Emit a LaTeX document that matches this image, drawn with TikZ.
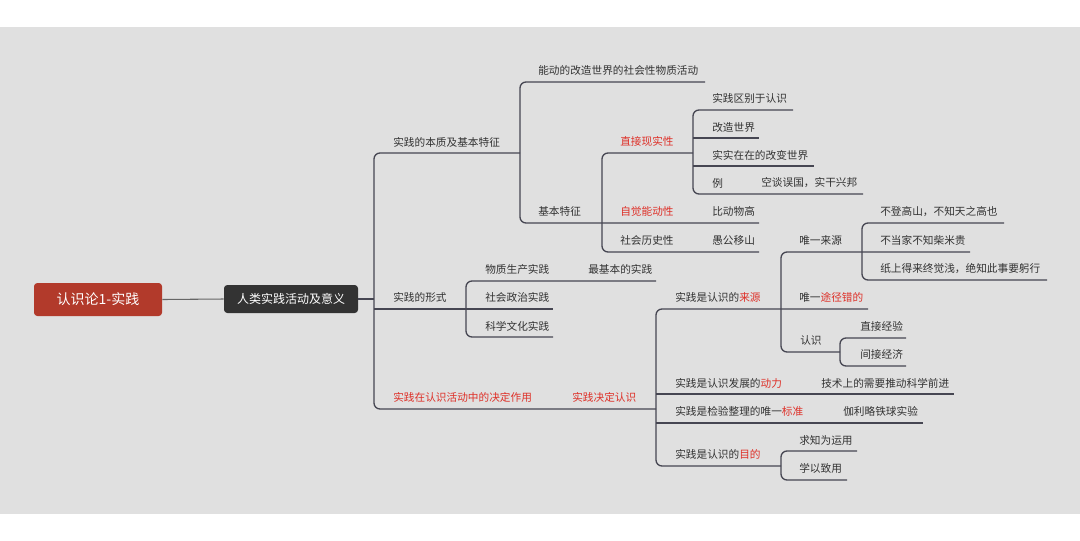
\documentclass[tikz,border=0pt]{standalone}
\usepackage{fontspec}
\setmainfont{Noto Sans CJK SC}
\definecolor{bgc}{RGB}{224,224,224}
\definecolor{linec}{RGB}{70,70,82}
\definecolor{txtc}{RGB}{50,50,50}
\definecolor{redt}{RGB}{222,48,40}
\definecolor{rootc}{RGB}{178,58,43}
\definecolor{mainc}{RGB}{51,51,51}
\begin{document}
\begin{tikzpicture}[x=0.75pt,y=-0.75pt,
  lbl/.style={anchor=west,inner sep=0pt,font=\fontsize{8pt}{9pt}\selectfont,text=txtc},
  rlbl/.style={lbl,text=redt},
  conn/.style={draw=linec,line width=1pt,rounded corners=4.5pt}]
\useasboundingbox (0,0) rectangle (1080,540);
\fill[white] (0,0) rectangle (1080,540);
\fill[bgc] (0,27) rectangle (1080,514);

% root and main
\node[fill=rootc,rounded corners=2.5pt,minimum width=128*0.75pt,minimum height=33*0.75pt,text=white,font=\fontsize{10.5pt}{12pt}\selectfont,inner sep=0pt] (root) at (98,299.5) {认识论1-实践};
\node[fill=mainc,rounded corners=2.5pt,minimum width=134*0.75pt,minimum height=28*0.75pt,text=white,font=\fontsize{9pt}{11pt}\selectfont,inner sep=0pt] (main) at (291,299) {人类实践活动及意义};
\draw[draw=gray!80!black,line width=0.8pt] (root.east) -- (main.west);
\coordinate (sp) at (374,299);
\draw[conn] (main.east) -- (sp);

% spine
\draw[conn] (520,153) -- (374,153) -- (374,409) -- (656,409);
\draw[conn] (374,309) -- (553,309);

% branch 1
\draw[conn] (705,82) -- (520,82) -- (520,223) -- (759,223);
\draw[conn] (693,153) -- (602,153) -- (602,252) -- (759,252);
\draw[conn] (793,110) -- (693,110) -- (693,194) -- (863,194);
\draw[conn] (693,138) -- (759,138);
\draw[conn] (693,166) -- (814,166);

% branch 2
\draw[conn] (656,281) -- (466,281) -- (466,337) -- (553,337);

% branch 3
\draw[conn] (868,309) -- (656,309) -- (656,466) -- (781,466);
\draw[conn] (656,394) -- (954,394);
\draw[conn] (656,423) -- (923,423);
\draw[conn] (970,252) -- (781,252) -- (781,352) -- (840,352);
\draw[conn] (1004,223) -- (862,223) -- (862,280) -- (1047,280);
\draw[conn] (906,338) -- (840,338) -- (840,366) -- (906,366);
\draw[conn] (857,451) -- (781,451) -- (781,480) -- (847,480);

% texts branch 1
\node[lbl] (a0) at (538,70) {能动的改造世界的社会性物质活动};
\node[lbl] (b1) at (393,142) {实践的本质及基本特征};
\node[lbl] (a1) at (712,98) {实践区别于认识};
\node[lbl] (a2) at (712,127) {改造世界};
\node[rlbl] (d1) at (620,141) {直接现实性};
\node[lbl] (a3) at (712,155) {实实在在的改变世界};
\node[lbl] (a4) at (712,183) {例};
\node[lbl] (a5) at (761,183) {空谈误国，实干兴邦};
\node[lbl] (jb) at (538,211) {基本特征};
\node[rlbl] (d2) at (620,211) {自觉能动性};
\node[lbl] (a6) at (712,211) {比动物高};
\node[lbl] (d3) at (620,240) {社会历史性};
\node[lbl] (a7) at (712,240) {愚公移山};

% texts branch 2
\node[lbl] (b2) at (393,297) {实践的形式};
\node[lbl] (f1) at (485,269) {物质生产实践};
\node[lbl] (f1a) at (588,269) {最基本的实践};
\node[lbl] (f2) at (485,297) {社会政治实践};
\node[lbl] (f3) at (485,326) {科学文化实践};

% texts branch 3
\node[rlbl] (b3) at (393,397) {实践在认识活动中的决定作用};
\node[rlbl] (c0) at (572,397) {实践决定认识};
\node[lbl] (c1) at (675,297) {实践是认识的\textcolor{redt}{来源}};
\node[lbl] (s1) at (799,240) {唯一来源};
\node[lbl] (s1a) at (880,212) {不登高山，不知天之高也};
\node[lbl] (s1b) at (880,240) {不当家不知柴米贵};
\node[lbl] (s1c) at (880,269) {纸上得来终觉浅，绝知此事要躬行};
\node[lbl] (s2) at (799,297) {唯一\textcolor{redt}{途径错的}};
\node[lbl] (s3) at (800,340) {认识};
\node[lbl] (s3a) at (860,326) {直接经验};
\node[lbl] (s3b) at (860,354) {间接经济};
\node[lbl] (c2) at (675,383) {实践是认识发展的\textcolor{redt}{动力}};
\node[lbl] (c2a) at (821,383) {技术上的需要推动科学前进};
\node[lbl] (c3) at (675,411) {实践是检验整理的唯一\textcolor{redt}{标准}};
\node[lbl] (c3a) at (843,411) {伽利略铁球实验};
\node[lbl] (c4) at (675,454) {实践是认识的\textcolor{redt}{目的}};
\node[lbl] (c4a) at (799,440) {求知为运用};
\node[lbl] (c4b) at (799,468) {学以致用};
\end{tikzpicture}
\end{document}
